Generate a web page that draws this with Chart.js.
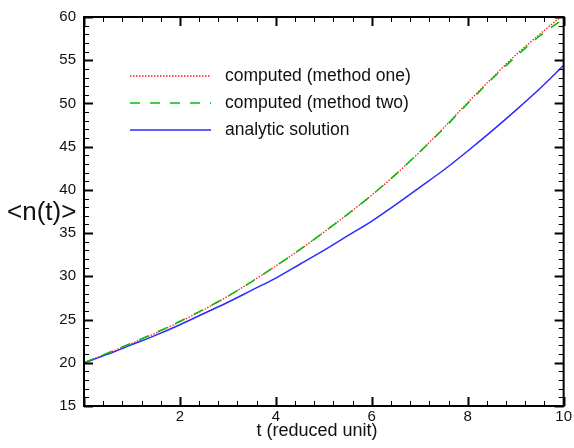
<!DOCTYPE html>
<html lang="en">
<head>
    <meta charset="UTF-8">
    <title>n(t) vs t</title>
    <script src="https://cdn.jsdelivr.net/npm/chart.js"></script>
    <style>
        html, body { margin: 0; padding: 0; background: #fff; }
        .chart-container { position: relative; width: 574px; height: 448px; }
    </style>
</head>
<body>
    <div class="chart-container">
        <canvas id="nChart"></canvas>
    </div>

    <script>
        // t values (reduced unit) and the three curves
        const tValues = [0, 0.5, 1, 1.5, 2, 2.5, 3, 3.5, 4, 4.5, 5, 5.5, 6, 6.5, 7, 7.5, 8, 8.5, 9, 9.5, 10];
        const methodOne = [20.0, 21.1, 22.25, 23.45, 24.75, 26.15, 27.7, 29.4, 31.2, 33.1, 35.1, 37.2, 39.4, 41.8, 44.4, 47.2, 50.1, 52.9, 55.6, 58.0, 60.3];
        const methodTwo = [20.0, 21.15, 22.3, 23.5, 24.8, 26.2, 27.7, 29.4, 31.2, 33.1, 35.1, 37.2, 39.4, 41.8, 44.4, 47.1, 50.0, 52.8, 55.4, 57.8, 59.8];
        const analytic = [20.0, 21.0, 22.1, 23.2, 24.4, 25.7, 27.0, 28.4, 29.8, 31.4, 33.0, 34.7, 36.4, 38.3, 40.3, 42.3, 44.5, 46.8, 49.2, 51.7, 54.4];

        const seriesLabels = ['computed (method one)', 'computed (method two)', 'analytic solution'];
        const xTitle = 't (reduced unit)';
        const yTitle = '<n(t)>';

        const FONT = '"Liberation Sans", Arial, Helvetica, sans-serif';
        const RED = '#ff1a1a', GREEN = '#00c000', BLUE = '#2b2bff';

        const toPoints = (ys) => ys.map((y, i) => ({ x: tValues[i], y }));

        // frame, inward ticks, legend and axis titles
        const framePlugin = {
            id: 'frame',
            afterDraw(chart) {
                const { ctx, chartArea: a, scales: { x, y } } = chart;
                ctx.save();
                ctx.strokeStyle = '#000';

                // minor + major ticks on all four sides
                for (let v = 0; v <= 10.001; v += 0.4) {
                    const px = Math.round(x.getPixelForValue(v)) + 0.5;
                    const major = Math.abs(v / 2 - Math.round(v / 2)) < 1e-6;
                    const len = major ? 9 : 5;
                    ctx.lineWidth = major ? 2 : 1;
                    ctx.beginPath();
                    ctx.moveTo(px, a.bottom); ctx.lineTo(px, a.bottom - len);
                    ctx.moveTo(px, a.top); ctx.lineTo(px, a.top + len);
                    ctx.stroke();
                }
                for (let v = 15; v <= 60; v += 1) {
                    const py = Math.round(y.getPixelForValue(v)) + 0.5;
                    const major = v % 5 === 0;
                    const len = major ? 9 : 5;
                    ctx.lineWidth = major ? 2 : 1;
                    ctx.beginPath();
                    ctx.moveTo(a.left, py); ctx.lineTo(a.left + len, py);
                    ctx.moveTo(a.right, py); ctx.lineTo(a.right - len, py);
                    ctx.stroke();
                }

                ctx.lineWidth = 2;
                ctx.strokeRect(a.left, a.top, a.right - a.left, a.bottom - a.top);

                // legend inside the plot
                const styles = [
                    { color: RED, dash: [1.5, 1.5], w: 1.3 },
                    { color: GREEN, dash: [10, 10], w: 1.5 },
                    { color: BLUE, dash: [], w: 1.5 }
                ];
                ctx.font = '17.5px ' + FONT;
                ctx.textBaseline = 'middle';
                ctx.textAlign = 'left';
                seriesLabels.forEach((lab, i) => {
                    const ly = 76 + i * 27;
                    ctx.strokeStyle = styles[i].color;
                    ctx.lineWidth = styles[i].w;
                    ctx.setLineDash(styles[i].dash);
                    ctx.beginPath();
                    ctx.moveTo(130, ly); ctx.lineTo(211, ly);
                    ctx.stroke();
                    ctx.setLineDash([]);
                    ctx.fillStyle = '#111';
                    ctx.fillText(lab, 225, ly);
                });

                // axis titles
                ctx.fillStyle = '#111';
                ctx.font = '18px ' + FONT;
                ctx.textAlign = 'center';
                ctx.fillText(xTitle, 317, 431);
                ctx.font = '26px ' + FONT;
                ctx.textAlign = 'left';
                ctx.fillText(yTitle, 7, 213);
                ctx.restore();
            }
        };

        new Chart(document.getElementById('nChart'), {
            type: 'line',
            data: {
                datasets: [
                    {
                        label: seriesLabels[1],
                        data: toPoints(methodTwo),
                        borderColor: GREEN,
                        borderWidth: 1.5,
                        borderDash: [10, 10],
                        pointRadius: 0,
                        cubicInterpolationMode: 'monotone'
                    },
                    {
                        label: seriesLabels[2],
                        data: toPoints(analytic),
                        borderColor: BLUE,
                        borderWidth: 1.5,
                        pointRadius: 0,
                        cubicInterpolationMode: 'monotone'
                    },
                    {
                        label: seriesLabels[0],
                        data: toPoints(methodOne),
                        borderColor: RED,
                        borderWidth: 1.3,
                        borderDash: [1.5, 1.5],
                        pointRadius: 0,
                        cubicInterpolationMode: 'monotone'
                    }
                ]
            },
            options: {
                responsive: true,
                maintainAspectRatio: false,
                animation: false,
                layout: { padding: { left: 0, right: 9, top: 16, bottom: 0 } },
                plugins: {
                    legend: { display: false },
                    tooltip: { enabled: false }
                },
                scales: {
                    x: {
                        type: 'linear',
                        min: 0,
                        max: 10,
                        grid: { display: false, drawTicks: false },
                        border: { display: false },
                        ticks: {
                            stepSize: 2,
                            padding: 2,
                            color: '#111',
                            font: { family: FONT, size: 15 },
                            maxRotation: 0,
                            callback: (v) => (v === 0 ? '' : v)
                        },
                        afterFit: (s) => { s.height = 42; }
                    },
                    y: {
                        min: 15,
                        max: 60,
                        grid: { display: false, drawTicks: false },
                        border: { display: false },
                        ticks: {
                            stepSize: 5,
                            padding: 8,
                            color: '#111',
                            font: { family: FONT, size: 15 }
                        },
                        afterFit: (s) => { s.width = 84; }
                    }
                }
            },
            plugins: [framePlugin]
        });
    </script>
</body>
</html>
